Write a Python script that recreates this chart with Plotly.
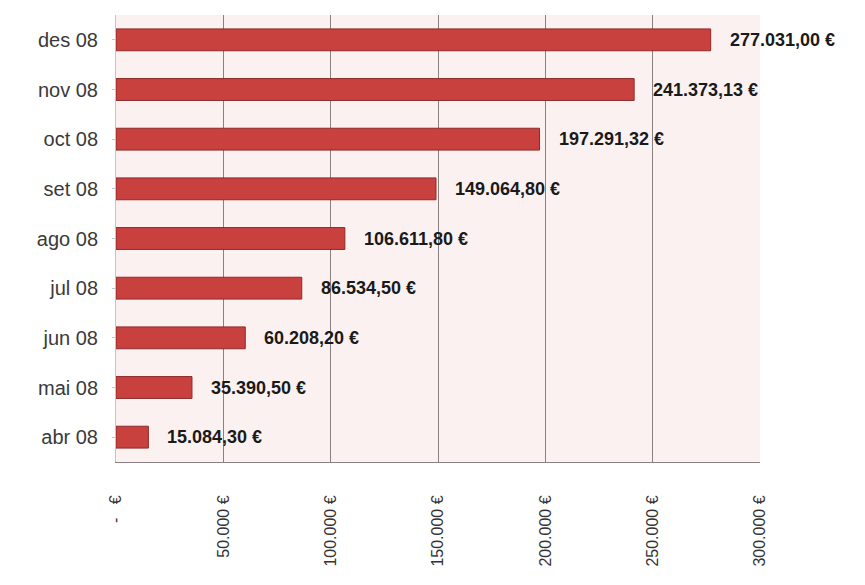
import plotly.graph_objects as go

# mesos i imports acumulats
mesos = ["abr 08", "mai 08", "jun 08", "jul 08", "ago 08", "set 08", "oct 08", "nov 08", "des 08"]
imports = [15084.30, 35390.50, 60208.20, 86534.50, 106611.80, 149064.80, 197291.32, 241373.13, 277031.00]
tick_vals = [0, 50000, 100000, 150000, 200000, 250000, 300000]
tick_text = ["-   €", "50.000 €", "100.000 €", "150.000 €", "200.000 €", "250.000 €", "300.000 €"]


def euro(v):
    s = f"{v:,.2f}"
    return s.replace(",", "X").replace(".", ",").replace("X", ".") + " €"


fig = go.Figure()
fig.add_trace(
    go.Bar(
        x=imports,
        y=mesos,
        orientation="h",
        width=0.44,
        marker={"color": "#c8413f", "line": {"color": "#8e2a28", "width": 1}},
        hoverinfo="skip",
    )
)

for m, v in zip(mesos, imports):
    fig.add_annotation(
        x=v,
        y=m,
        text=euro(v),
        showarrow=False,
        xanchor="left",
        xshift=17,
        font={"family": "Arial, Liberation Sans", "size": 18, "color": "#1a1a1a", "weight": "bold"},
    )

# la pàgina html afegeix 8 px de marge al body
fig.update_layout(
    width=857,
    height=577,
    margin={"l": 108, "r": 105, "t": 7, "b": 123},
    paper_bgcolor="white",
    plot_bgcolor="#fcf1f1",
    showlegend=False,
)
fig.update_xaxes(
    range=[0, 300000],
    tickvals=tick_vals,
    ticktext=tick_text,
    tickangle=-90,
    tickfont={"family": "Arial, Liberation Sans", "size": 16, "color": "#333333"},
    ticklabelstandoff=26,
    showgrid=True,
    gridcolor="#8a8080",
    gridwidth=1,
    showline=True,
    linecolor="#8a8080",
    ticks="",
    zeroline=False,
)
fig.update_yaxes(
    tickfont={"family": "Arial, Liberation Sans", "size": 20, "color": "#3a3a3a"},
    showline=True,
    linecolor="#b8c8d8",
    ticks="outside",
    ticklen=3,
    tickcolor="#b8c8d8",
    ticklabelstandoff=10,
)

fig.write_html("out.html")
